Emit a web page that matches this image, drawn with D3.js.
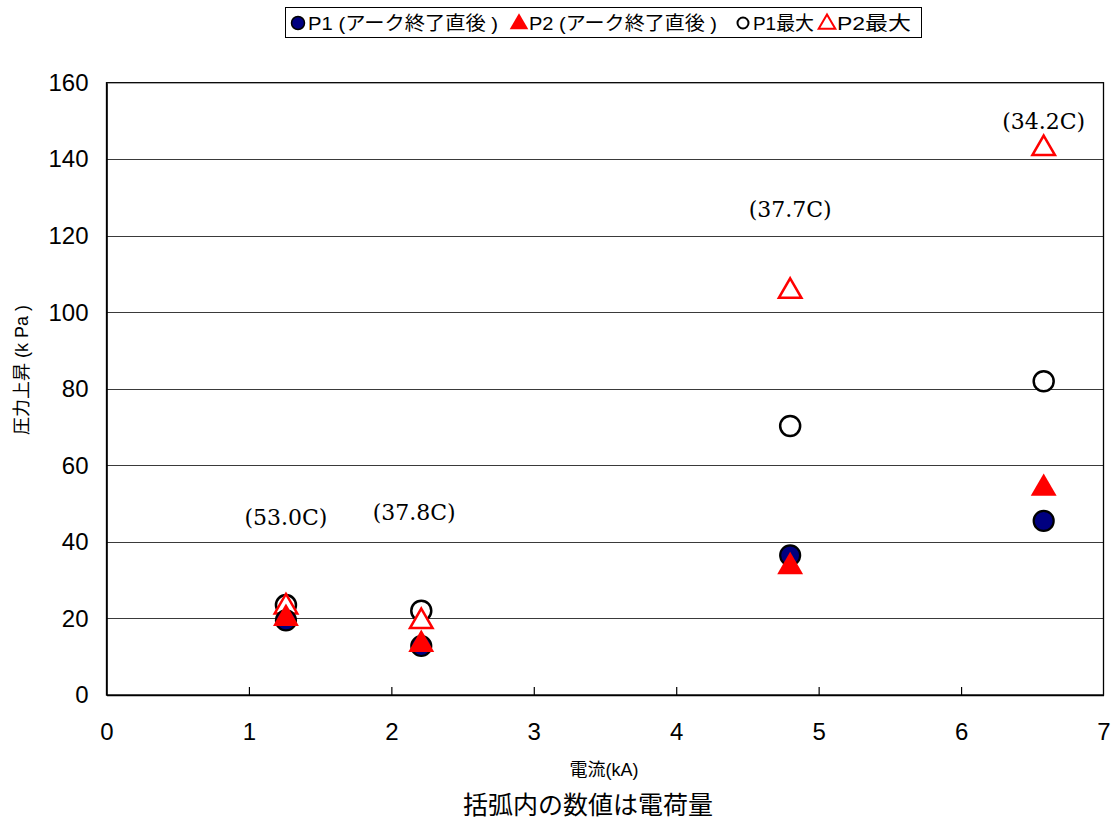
<!DOCTYPE html>
<html>
<head>
<meta charset="utf-8">
<script src="https://cdn.jsdelivr.net/npm/d3@7"></script>
<style>
  html, body { margin: 0; padding: 0; background: #fff; }
  svg { display: block; }
</style>
</head>
<body>
<svg id="chart" width="1120" height="823"></svg>
<script>
// Arc current (kA) for each test
const current = [1.26, 2.21, 4.80, 6.58];
// Pressure rise (kPa)
const p1End = [19.5, 12.8, 36.5, 45.5];   // P1 right after arc end
const p2End = [20.0, 13.2, 33.5, 54.0];   // P2 right after arc end
const p1Max = [23.5, 22.0, 70.3, 82.0];   // P1 peak
const p2Max = [23.0, 19.2, 105.5, 142.8]; // P2 peak
// Charge (C) per test, shown in brackets
const charge = ["53.0", "37.8", "37.7", "34.2"];
// Height (kPa) and current (kA) where each charge note sits
const chargeNoteY = [46.5, 47.8, 127.0, 150.0];
const chargeNoteX = [1.26, 2.16, 4.80, 6.58];

const xTicks = [0, 1, 2, 3, 4, 5, 6, 7];
const yTicks = [0, 20, 40, 60, 80, 100, 120, 140, 160];

const legendLabels = ["P1 (アーク終了直後 )", "P2 (アーク終了直後 )", "P1最大", "P2最大"];

const svg = d3.select("#chart");
const m = { left: 106.5, right: 1103.5, top: 82.7, bottom: 695 };
const sansJP = "'Liberation Sans', Arial, 'Noto Sans CJK JP', sans-serif";

const x = d3.scaleLinear().domain([0, 7]).range([m.left, m.right]);
const y = d3.scaleLinear().domain([0, 160]).range([m.bottom, m.top]);

// Horizontal gridlines
svg.append("g")
  .selectAll("line")
  .data(yTicks.filter(v => v > 0 && v < 160))
  .join("line")
  .attr("x1", m.left).attr("x2", m.right)
  .attr("y1", d => Math.round(y(d)) + 0.5).attr("y2", d => Math.round(y(d)) + 0.5)
  .attr("stroke", "#3a3a3a").attr("stroke-width", 1);

// Plot frame
svg.append("rect")
  .attr("x", m.left).attr("y", m.top)
  .attr("width", m.right - m.left).attr("height", m.bottom - m.top)
  .attr("fill", "none").attr("stroke", "#000").attr("stroke-width", 1.3);

// X axis: inward ticks, labels below
const xAxis = d3.axisBottom(x).tickValues(xTicks).tickFormat(d3.format("d"))
  .tickSizeInner(-8).tickSizeOuter(0).tickPadding(28);
const gx = svg.append("g").attr("transform", `translate(0,${m.bottom})`).call(xAxis);
gx.select(".domain").attr("stroke", "#000").attr("stroke-width", 1.6);
gx.selectAll(".tick line").attr("stroke", "#000").attr("stroke-width", 1.2)
  .attr("display", d => (d === 0 || d === 7) ? "none" : null);
gx.selectAll(".tick text").attr("font-family", sansJP).attr("font-size", 24).attr("fill", "#000");

// Y axis: labels only, gridlines carry the ticks
const yAxis = d3.axisLeft(y).tickValues(yTicks).tickSize(0).tickPadding(18);
const gy = svg.append("g").attr("transform", `translate(${m.left},0)`).call(yAxis);
gy.select(".domain").attr("stroke", "#000").attr("stroke-width", 1.6);
gy.selectAll(".tick text").attr("font-family", sansJP).attr("font-size", 24).attr("fill", "#000");

// Marker shapes
const tri = d3.symbol().type(d3.symbolTriangle);
const r = 10;

const pts = (ys) => current.map((c, i) => ({ x: c, y: ys[i] }));

// Peak values (open markers)
svg.append("g").selectAll("circle").data(pts(p1Max)).join("circle")
  .attr("cx", d => x(d.x)).attr("cy", d => y(d.y)).attr("r", r)
  .attr("fill", "#fff").attr("stroke", "#000").attr("stroke-width", 2.5);
svg.append("g").selectAll("path").data(pts(p2Max)).join("path")
  .attr("d", tri.size(220)())
  .attr("transform", d => `translate(${x(d.x)},${y(d.y)})`)
  .attr("fill", "#fff").attr("stroke", "#ff0000").attr("stroke-width", 2.5);

// Values right after arc end (filled markers)
svg.append("g").selectAll("circle").data(pts(p1End)).join("circle")
  .attr("cx", d => x(d.x)).attr("cy", d => y(d.y)).attr("r", r)
  .attr("fill", "#000080").attr("stroke", "#000").attr("stroke-width", 2.2);
svg.append("g").selectAll("path").data(pts(p2End)).join("path")
  .attr("d", tri.size(290)())
  .attr("transform", d => `translate(${x(d.x)},${y(d.y)})`)
  .attr("fill", "#ff0000").attr("stroke", "none");

// Charge notes
svg.append("g").selectAll("text").data(charge).join("text")
  .attr("x", (d, i) => x(chargeNoteX[i])).attr("y", (d, i) => y(chargeNoteY[i]))
  .attr("dy", "0.35em").attr("text-anchor", "middle")
  .attr("font-family", "'DejaVu Serif', 'Liberation Serif', serif").attr("font-size", 22)
  .attr("fill", "#000")
  .text(d => `(${d}C)`);

// Axis titles
svg.append("text")
  .attr("transform", "translate(28,370) rotate(-90)")
  .attr("text-anchor", "middle")
  .attr("font-family", sansJP).attr("font-size", 18).attr("fill", "#000")
  .text("圧力上昇 (k Pa )");
svg.append("text")
  .attr("x", 604).attr("y", 776).attr("text-anchor", "middle")
  .attr("font-family", sansJP).attr("font-size", 18).attr("fill", "#000")
  .text("電流(kA)");
svg.append("text")
  .attr("x", 588).attr("y", 814).attr("text-anchor", "middle")
  .attr("font-family", sansJP).attr("font-size", 25).attr("fill", "#000")
  .text("括弧内の数値は電荷量");

// Legend
const lg = svg.append("g");
lg.append("rect").attr("x", 285.5).attr("y", 7.5).attr("width", 636).attr("height", 30)
  .attr("fill", "#fff").attr("stroke", "#000").attr("stroke-width", 1);
const legendX = [298, 519, 743, 827];
const legendTextW = [190, 188, 61, 74];
const ly = 23;
lg.append("circle").attr("cx", legendX[0]).attr("cy", ly).attr("r", 6.5)
  .attr("fill", "#000080").attr("stroke", "#000").attr("stroke-width", 1.5);
lg.append("path").attr("d", tri.size(150)()).attr("transform", `translate(${legendX[1]},${ly + 1})`)
  .attr("fill", "#ff0000");
lg.append("circle").attr("cx", legendX[2]).attr("cy", ly).attr("r", 5.5)
  .attr("fill", "#fff").attr("stroke", "#000").attr("stroke-width", 2);
lg.append("path").attr("d", tri.size(120)()).attr("transform", `translate(${legendX[3]},${ly + 1})`)
  .attr("fill", "#fff").attr("stroke", "#ff0000").attr("stroke-width", 2);
lg.selectAll("text").data(legendLabels).join("text")
  .attr("x", (d, i) => legendX[i] + 10).attr("y", ly).attr("dy", "0.36em")
  .attr("font-family", sansJP).attr("font-size", 19).attr("fill", "#000")
  .attr("textLength", (d, i) => legendTextW[i]).attr("lengthAdjust", "spacingAndGlyphs")
  .text(d => d);
</script>
</body>
</html>
